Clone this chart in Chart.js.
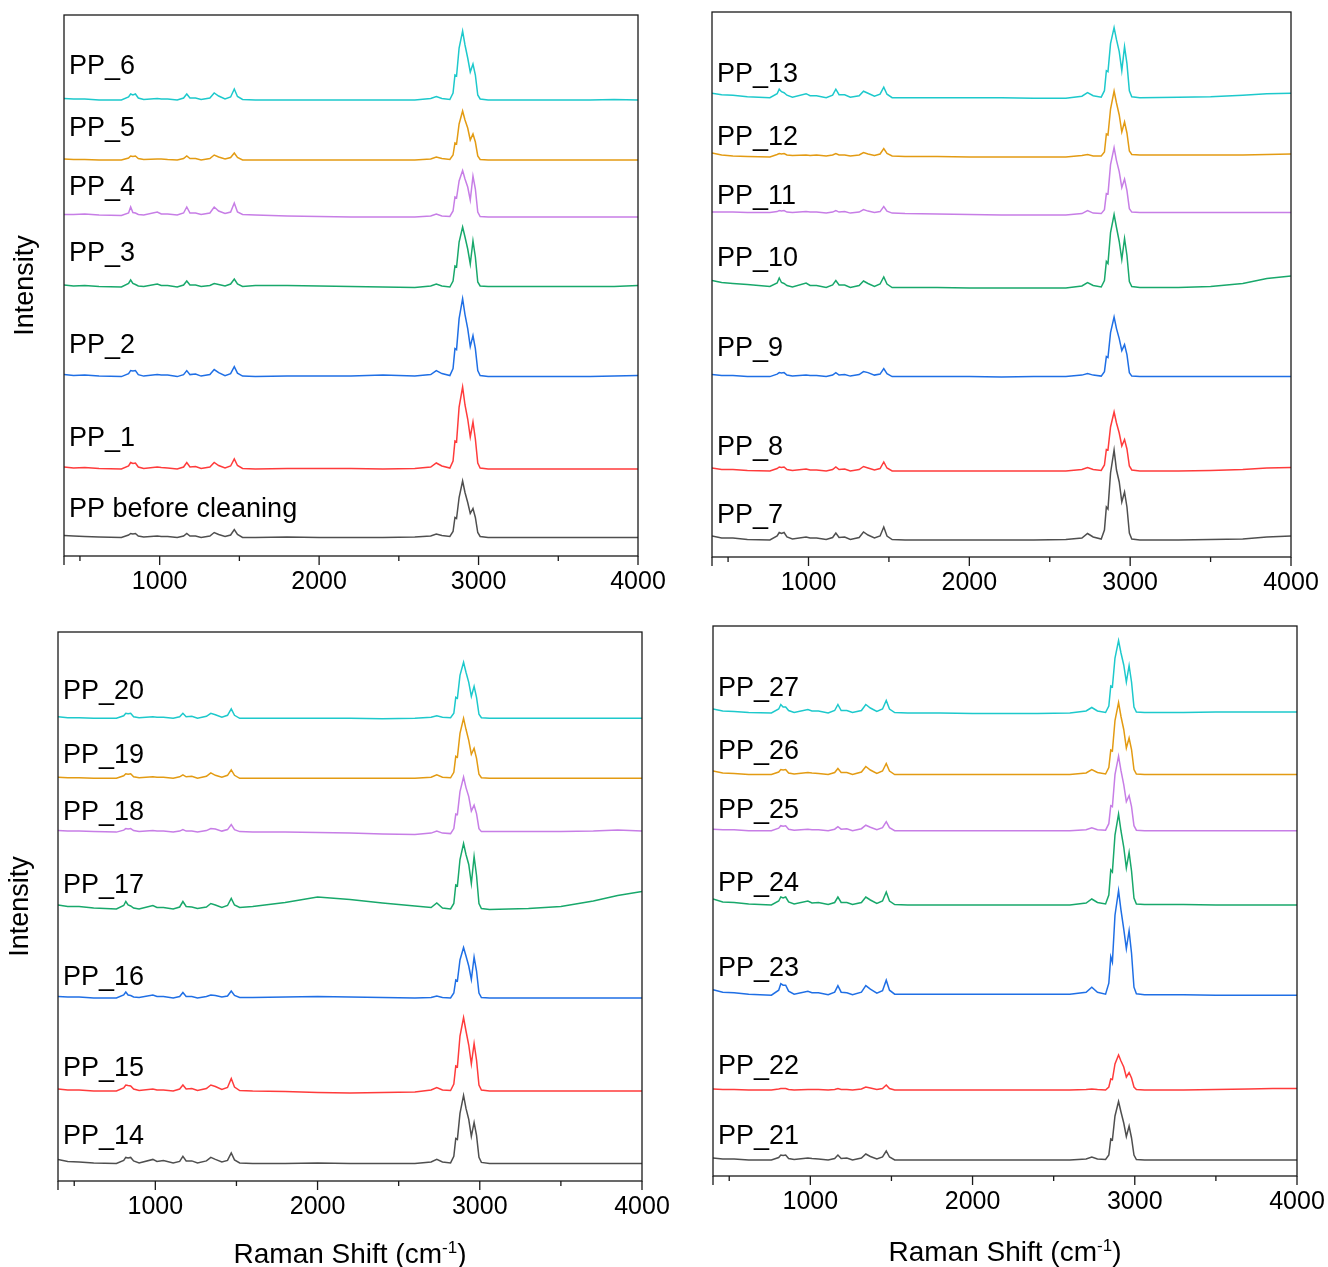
<!DOCTYPE html>
<html>
<head>
<meta charset="utf-8">
<script src="https://cdn.jsdelivr.net/npm/chart.js@4.4.1/dist/chart.umd.min.js"></script>
<style>
  body { margin: 0; background: #fff; width: 1328px; height: 1267px; position: relative; overflow: hidden;
         font-family: "Liberation Sans", Arial, sans-serif; }
  canvas { position: absolute; }
  .xtitle { position: absolute; transform: translateX(-50%); font-size: 28px; line-height: 30px; color: #000; white-space: nowrap; }
  .xtitle sup { font-size: 17px; }
</style>
</head>
<body>
<canvas id="p1" width="690" height="612" style="left:0;top:0"></canvas>
<canvas id="p2" width="664" height="612" style="left:664px;top:0"></canvas>
<canvas id="p3" width="690" height="655" style="left:0;top:612px"></canvas>
<canvas id="p4" width="664" height="655" style="left:664px;top:612px"></canvas>
<div class="xtitle" style="left:350px;top:1233px">Raman Shift (cm<sup>-1</sup>)</div>
<div class="xtitle" style="left:1005px;top:1231px">Raman Shift (cm<sup>-1</sup>)</div>

<script>
// Raman shift grid (cm-1), shared by all spectra
const ramanShift = [
  400, 460, 530, 620, 760,   805, 818, 832, 848, 866,   900, 985, 1010, 1050, 1110,
  1150, 1170, 1190, 1225, 1260,   1315, 1342, 1370, 1410, 1445,   1468, 1488, 1520, 1600, 1800,
  2000, 2200, 2400, 2600, 2700,   2735, 2770, 2820, 2840, 2852,   2862, 2878, 2900, 2915, 2932,
  2948, 2965, 2980, 2995, 3010,   3060, 3300, 3500, 3700, 3850,   4000
];
const tickLabels = [1000, 2000, 3000, 4000];
const minorTicks = [500, 1500, 2500, 3500];

// intensities (a.u., above each trace's own baseline)
const pp0 = [2, 1.5, 1, 0.5, 0,  2.5, 4, 3.5, 4, 1.5,  0.5, 1.5, 1, 1, 0,  1.5, 4, 1.5, 1.5, 0,  1.5, 5, 3, 1, 2.5,  8, 3, 0, 0, 0.5,
  0, 0, 0, 0.5, 1.5,  3.5, 2, 1, 6, 20,  19, 40, 56.5, 45, 35,  24, 29, 20, 5, 1,  0, 0, 0, 0, 0,  0];
const pp1 = [2, 1, 1.5, 0.5, 0,  3, 6.5, 5.5, 6, 2,  0.5, 2, 1.5, 1, 0,  2, 6.5, 2, 2.5, 0.5,  2, 6.5, 3.5, 1, 3,  10, 3.5, 0.5, 0, 0.5,
  0.5, 0.5, 0, 0.5, 2,  6, 3, 1, 8, 28,  27, 62, 82, 64, 50,  32, 47, 30, 6, 1,  0, 0, 0, 0, 0,  0];
const pp2 = [2, 1, 1.5, 0.5, 0,  3, 6, 5.5, 6, 2,  0.5, 2, 1.5, 1.5, 0,  2, 6, 2, 2.5, 0.5,  2, 7, 4, 1, 3,  10, 3.5, 0.5, 0, 0.5,
  0.5, 0.5, 1.5, 0.5, 2,  6, 3, 1, 8, 28,  27, 58, 78, 62, 48,  30, 41, 28, 6, 1,  0, 0, 0, 0, 0.5,  1];
const pp3 = [2, 1, 1.5, 0.5, 0,  3.5, 7, 3.5, 2.5, 1,  0.5, 3, 1.5, 1.5, 0,  2, 6, 2, 2, 0.5,  1.5, 3.5, 2.5, 1, 3,  8, 3, 0.5, 1.5, 1.5,
  1, 0.5, 0, -0.5, 1,  3, 1, 0, 6, 21,  20, 45, 60, 50, 38,  23, 46, 30, 5, 1,  0.5, 0.5, 0.5, 0.5, 0.5,  1.5];
const pp4 = [2.5, 2.5, 3, 2, 1.5,  4, 10, 4.5, 4, 2.5,  2, 5, 3, 3, 2,  4, 10, 4, 4, 2.5,  4, 10, 6, 3.5, 5,  14, 5, 2.5, 2, 1,
  0.5, 0, 0, 0, 1,  3, 1, 0.5, 6, 20,  19, 36, 46.5, 38, 30,  17, 41, 28, 5, 0.5,  0, 0, 0, 0, 0,  0];
const pp5 = [1, 0.5, 0.5, 0, 0,  2, 4, 3.5, 4, 1.5,  0.5, 1, 1, 0.5, 0,  1.5, 4, 1.5, 1.5, 0,  1.5, 5, 3, 1, 2.5,  7, 2.5, 0, 0, 0,
  0, 0, 0, 0, 1,  3, 1.5, 0.5, 5, 17,  16, 36, 49, 40, 32,  20, 26, 18, 4, 0.5,  0, 0, 0, 0, 0,  0];
const pp6 = [1.5, 1, 1, 0, 0,  3, 6, 5, 6, 2,  0.5, 1.5, 1, 1, 0,  2, 6, 2, 2, 0.5,  2, 7, 4, 1, 3,  11, 3.5, 0.5, 0, 0,
  0, 0, 0, 0, 1.5,  3.5, 1.5, 0.5, 7, 25,  24, 52, 69, 55, 42,  28, 36, 25, 5, 1,  0, 0, 0, 0, 0.5,  0];

const pp7 = [4, 2, 2, 0.5, 0,  4, 7.5, 6.5, 7.5, 3,  1, 3, 2, 2, 0.5,  2.5, 7, 2.5, 3, 0.5,  2.5, 8, 5, 2, 4,  13, 4, 0.5, 0, 0,
  0, 0, 0, 0.5, 2,  6.5, 3, 1, 10, 33,  31, 67, 90, 70, 58,  38, 48, 33, 7, 1,  0, 0, 0.5, 1, 3,  4];
const pp8 = [3, 1.5, 1.5, 0.5, 0,  2.5, 4, 3.5, 4, 1.5,  0.5, 2, 1, 1, 0,  1.5, 4, 1.5, 2, 0,  1.5, 4.5, 3, 1, 2.5,  9, 3, 0, 0, 0,
  0, 0, 0, 0, 1.5,  3.5, 1.5, 0.5, 6, 21.5,  21, 44, 59, 48, 38,  25, 31.5, 22, 5, 1,  0, 0, 0.5, 1.5, 3,  3.5];
const pp9 = [2, 1, 1, 0, 0,  2.5, 4, 3.5, 4, 1.5,  0.5, 1.5, 1, 1, 0,  1.5, 4, 1.5, 2, 0.5,  2, 5, 4, 1.5, 2.5,  8, 3, 0, 0, 0,
  0, -0.5, 0, 0, 1.5,  3, 1.5, 0.5, 5, 20,  19, 44, 59.5, 48, 38,  26, 32, 22, 4, 0.5,  0, 0, 0, 0, 0,  0];
const pp10 = [7, 5, 4, 3, 1,  4.5, 9.5, 5, 4, 2,  0.5, 4.5, 2, 2, 0,  2.5, 7, 2.5, 2.5, 0,  2, 6.5, 4, 1, 3.5,  10.5, 3.5, 0, 0, 0,
  -0.5, -0.5, -0.5, -0.5, 1.5,  5, 2, 0.5, 7, 26,  24, 55, 73, 60, 46,  28, 49, 32, 6, 1,  0, 0, 1, 4, 9,  11.5];
const pp11 = [0.5, 0.5, 0.5, 0, 0,  1, 2, 1.5, 2, 0.5,  0, 1, 0.5, 0.5, -0.5,  0.5, 2, 0.5, 1, -0.5,  0.5, 3, 1.5, 0, 1,  6, 1.5, -0.5, -1, -1.5,
  -2, -2.5, -2.5, -2.5, -1,  2, -0.5, -1, 3, 19,  18.5, 48, 65, 52, 41,  25, 33.5, 22, 4, 0.5,  0, 0, 0, 0, 0,  0];
const pp12 = [2, 0, -1, -1.5, -2,  0.5, 1.5, 1, 1.5, 0,  -0.5, 0, -0.5, 0, -1,  0, 1.5, 0, 0, -1,  0, 2.5, 1, -0.5, 1,  6.5, 1.5, -1, -1.5, -1.5,
  -2, -2, -2, -2, -0.5,  0.5, -1, -1, 3, 21,  20, 46, 64, 52, 40,  23, 33, 22, 4, 0.5,  0, 0, 0, 0, 0.5,  1];
const pp13 = [4.5, 3, 2.5, 1, 0,  4, 8.5, 6, 5, 2.5,  0.5, 4, 2, 2, 0,  2.5, 8.5, 3, 3, 0.5,  2, 6.5, 4.5, 1.5, 3.5,  10.5, 3.5, 0, 0, 0,
  0, 0, -0.5, -0.5, 1.5,  5, 2, 0.5, 7, 27,  26, 54, 70, 58, 46,  27, 51, 34, 7, 1,  0, 0.5, 1, 2.5, 4,  4.5];

const pp14 = [4, 2, 1.5, 0.5, 0,  3, 6, 5.5, 6, 2.5,  0.5, 4, 2, 3, 0.5,  2, 7, 2.5, 2.5, 0.5,  2.5, 6, 4, 1.5, 3,  10.5, 3.5, 0.5, 0, 0,
  0.5, 0, 0, 0, 1.5,  4, 1.5, 0.5, 7, 25,  24, 50, 68, 55, 44,  27, 41, 28, 6, 1,  0, 0, 0, 0, 0,  0];
const pp15 = [2, 1, 1, 0, 0,  3, 6, 5.5, 5, 2,  0.5, 2, 1, 1, 0,  2, 6, 2, 2.5, 0.5,  2.5, 6, 4.5, 1.5, 3.5,  12.5, 4, 0.5, 0, -0.5,
  -1.5, -2, -1.5, -1, 1,  3.5, 1, 0.5, 7, 25,  24, 55, 73.5, 60, 46,  27, 47.5, 31, 6, 1,  0, 0, 0, 0, 0,  0];
const pp16 = [1.5, 1, 1, 0, 0,  3, 6, 3, 2.5, 1,  0.5, 3, 1.5, 1.5, 0,  1.5, 5.5, 1.5, 1.5, 0,  1.5, 3, 2.5, 1, 2,  7, 2.5, 0.5, 0.5, 1,
  1.5, 1, 0.5, 0, 0.5,  2, 0.5, 0, 5, 18,  17, 38, 50.5, 42, 32,  18.5, 41, 27, 5, 0.5,  0, 0, 0, 0, 0,  0];
const pp17 = [4.5, 3, 3, 1.5, 0.5,  4, 8, 4.5, 3.5, 1.5,  0.5, 4, 2, 2, 0.5,  2.5, 8, 3, 2.5, 1,  2.5, 6, 4.5, 2, 4,  11, 4.5, 2, 3, 7,
  12.5, 10, 6.5, 3.5, 2,  6.5, 1.5, 0.5, 6, 24.5,  23.5, 50, 66, 55, 45,  26, 53, 34, 6, 1,  0, 1, 3, 8.5, 14,  18];
const pp18 = [1, 0.5, 0.5, 0, -0.5,  1.5, 3, 2.5, 3, 1,  0, 1, 0.5, 0.5, -0.5,  0.5, 2, 0.5, 0.5, -0.5,  1, 3, 2.5, 0.5, 2,  7, 2, 0, -0.5, -0.5,
  -1, -1.5, -2.5, -3, -1.5,  0.5, -1.5, -2, 3, 17.5,  17, 40, 54.5, 44, 35,  20.5, 26.5, 18, 3, 0,  0, 0, 0, 0.5, 1.5,  0.5];
const pp19 = [1, 0.5, 0.5, 0, 0,  2.5, 4.5, 4, 4.5, 1.5,  0.5, 1.5, 1, 1, 0,  1.5, 3.5, 1.5, 2, 0,  2, 5.5, 3, 1, 3,  8.5, 3, 0, 0, 0,
  0, 0, 0, 0, 1,  3.5, 1, 0.5, 6, 22,  21, 45, 60, 49, 38,  24, 30, 20, 4, 0.5,  0, 0, 0, 0, 0,  0];
const pp20 = [1.5, 0.5, 0.5, 0, 0,  2.5, 5, 4.5, 5, 1.5,  0.5, 1.5, 1, 1, 0,  1.5, 5, 1.5, 2, 0,  2, 5, 3.5, 1, 3,  9.5, 3, 0, 0, 0,
  0, 0, -0.5, 0, 1,  2.5, 1, 0.5, 5, 21,  20, 43, 56, 46, 36,  22, 32, 21, 4, 0.5,  0, 0, 0, 0, 0,  0];

const pp21 = [2, 1, 1, 0, 0,  2.5, 5, 4.5, 5, 1.5,  0.5, 2, 1.5, 1, 0,  1.5, 5, 1.5, 2, 0,  2, 6, 3.5, 1, 3,  9, 3, 0, 0, 0,
  0, 0, 0, 0, 1,  3, 1, 0.5, 5, 21,  20, 44, 58.5, 48, 37,  23.5, 34, 22, 5, 0.5,  0, 0, 0, 0, 0,  0];
const pp22 = [1, 0.5, 0.5, 0, 0,  1, 1.5, 1.5, 1.5, 0.5,  0, 0.5, 0.5, 0.5, 0,  0.5, 1.5, 0.5, 0.5, 0,  1, 3, 2, 0.5, 1.5,  5, 1.5, 0, 0, 0,
  0, 0, 0, 0, 0.5,  1, 0.5, 0, 3, 11,  10.5, 26, 35, 29, 23,  13, 17.5, 12, 3, 0.5,  0, 0, 0.5, 1, 1.5,  1.5];
const pp23 = [5.5, 3, 2.5, 1, 0,  5, 11.5, 10, 10, 4,  1, 4, 2.5, 2.5, 0.5,  3, 9.5, 3, 2.5, 0.5,  3, 9.5, 6, 2, 4.5,  15, 5, 1, 1, 1,
  1, 1, 1, 1, 3,  8, 3, 1, 12, 38.5,  33, 80, 104.5, 85, 66,  46.5, 64.5, 42, 8, 1.5,  0.5, 0.5, 0, 0, 0,  0];
const pp24 = [6, 3, 2.5, 1, 0,  4, 8, 7, 8, 3,  1, 4, 2, 2.5, 0.5,  2.5, 8, 2.5, 2.5, 0.5,  2.5, 8, 5, 1.5, 4,  13, 4, 0.5, 0, 0,
  0, 0, 0, 0, 2,  6, 2.5, 1, 10, 35,  33, 70, 91, 74, 58,  37, 52.5, 34, 7, 1,  0.5, 0.5, 0, 0, 0,  0];
const pp25 = [1.5, 1, 1, 0, 0,  2.5, 5, 4.5, 5, 1.5,  0.5, 1.5, 1, 1, 0,  1.5, 4, 1.5, 2, 0,  2, 5.5, 3.5, 1, 3,  9, 3, 0, 0, 0,
  0, 0, 0, 0, 1,  3, 1, 0.5, 7, 25,  24, 56, 74.5, 60, 46,  29, 35, 24, 5, 0.5,  0, 0, 0, 0, 0,  0];
const pp26 = [3.5, 1.5, 1, 0, 0,  2.5, 5, 4.5, 5, 1.5,  0.5, 2, 1.5, 1, 0,  2, 6, 2, 2, 0,  2.5, 8, 4.5, 1, 3.5,  11, 3.5, 0, 0, 0,
  0, 0, 0, 0, 1.5,  5, 2, 0.5, 7, 24.5,  23.5, 54, 72, 58, 45,  26.5, 36.5, 25, 5, 0.5,  0, 0, 0, 0, 0,  0];
const pp27 = [4, 2, 1.5, 0.5, 0,  4, 8.5, 6, 6, 2.5,  0.5, 3.5, 2, 2, 0,  2.5, 8.5, 2.5, 2.5, 0.5,  2.5, 8.5, 5, 1.5, 4,  12.5, 4, 0.5, 0, 0,
  -0.5, -0.5, -0.5, 0, 2,  5.5, 2, 0.5, 7, 27,  26, 55, 72.5, 60, 48,  31, 47.5, 31, 6, 1,  0.5, 0.5, 1, 1, 1,  1];

// names, vertical offsets (stacking) and label heights, bottom trace first
const names1 = ["PP before cleaning", "PP_1", "PP_2", "PP_3", "PP_4", "PP_5", "PP_6"];
const names2 = ["PP_7", "PP_8", "PP_9", "PP_10", "PP_11", "PP_12", "PP_13"];
const names3 = ["PP_14", "PP_15", "PP_16", "PP_17", "PP_18", "PP_19", "PP_20"];
const names4 = ["PP_21", "PP_22", "PP_23", "PP_24", "PP_25", "PP_26", "PP_27"];
const offsets1 = [18.5, 87, 179.4, 269, 339, 396, 456];
const offsets2 = [17, 86, 180.4, 269.5, 344.4, 402, 459.3];
const offsets3 = [17.6, 90, 183, 271.5, 349.4, 402.7, 462.7];
const offsets4 = [16, 86, 180.8, 271, 345.3, 401.5, 463];
const labelY1 = [39, 110, 203, 295.5, 361, 420, 482];
const labelY2 = [34, 102, 201.4, 291.5, 353, 412, 474.6];
const labelY3 = [37, 105.2, 196.5, 288.3, 360.6, 418.4, 482.5];
const labelY4 = [32, 102.3, 200, 285.3, 357.7, 416.7, 480.4];

const lineColors = ["#4f4f4f", "#ff3b3b", "#1f6fe5", "#18a86b", "#c77ee6", "#e39b13", "#1dc9cc"];
const FONT = '"Liberation Sans", Arial, sans-serif';

// frame box, outward x ticks and the trace names
const framePlugin = {
  id: "frame",
  afterDraw(chart, args, opts) {
    const { ctx, chartArea: a, scales: { x, y } } = chart;
    ctx.save();
    ctx.strokeStyle = "#1a1a1a";
    ctx.lineWidth = 1.3;
    ctx.strokeRect(a.left, a.top, a.right - a.left, a.bottom - a.top);
    ctx.beginPath();
    [x.min].concat(tickLabels).forEach(v => {
      const px = x.getPixelForValue(v);
      ctx.moveTo(px, a.bottom); ctx.lineTo(px, a.bottom + 9);
    });
    minorTicks.forEach(v => {
      const px = x.getPixelForValue(v);
      ctx.moveTo(px, a.bottom); ctx.lineTo(px, a.bottom + 5);
    });
    ctx.stroke();

    ctx.font = "27px " + FONT;
    ctx.fillStyle = "#000";
    ctx.textBaseline = "alphabetic";
    chart.data.datasets.forEach((ds, i) => {
      ctx.fillText(ds.label, a.left + 5, y.getPixelForValue(opts.labelY[i]));
    });
    ctx.restore();
  }
};

function buildPanel(id, p) {
  return new Chart(document.getElementById(id).getContext("2d"), {
    type: "line",
    data: {
      datasets: p.series.map((vals, i) => ({
        label: p.names[i],
        data: ramanShift.map((x, j) => ({ x: x, y: p.offsets[i] + vals[j] })),
        borderColor: lineColors[i],
        borderWidth: 1.5,
        pointRadius: 0,
        tension: 0,
        fill: false
      }))
    },
    options: {
      responsive: false,
      animation: false,
      devicePixelRatio: 1,
      layout: { padding: p.padding },
      plugins: { legend: { display: false }, tooltip: { enabled: false }, frame: { labelY: p.labelY } },
      scales: {
        x: {
          type: "linear", min: 400, max: 4000,
          grid: { display: false }, border: { display: false },
          afterBuildTicks: s => { s.ticks = tickLabels.map(v => ({ value: v })); },
          afterFit: s => { s.height = p.xHeight; s.paddingLeft = 0; s.paddingRight = 0; },
          ticks: { color: "#000", font: { size: 25, family: FONT }, padding: 3, maxRotation: 0, autoSkip: false,
                   callback: v => String(v) }
        },
        y: {
          min: 0, max: p.yMax,
          grid: { display: false }, border: { display: false },
          ticks: { display: false },
          title: { display: p.yTitle, text: "Intensity", color: "#000", font: { size: 27, family: FONT },
                   padding: { top: p.yTitlePad, bottom: 0 } },
          afterFit: s => { s.width = p.yWidth; }
        }
      }
    },
    plugins: [framePlugin]
  });
}

buildPanel("p1", { names: names1, series: [pp0, pp1, pp2, pp3, pp4, pp5, pp6], offsets: offsets1, labelY: labelY1,
  yMax: 541, padding: { left: 0, top: 15, right: 52, bottom: 0 }, yWidth: 64, xHeight: 56, yTitle: true, yTitlePad: 9 });
buildPanel("p2", { names: names2, series: [pp7, pp8, pp9, pp10, pp11, pp12, pp13], offsets: offsets2, labelY: labelY2,
  yMax: 545, padding: { left: 0, top: 12, right: 37, bottom: 0 }, yWidth: 48, xHeight: 55, yTitle: false, yTitlePad: 0 });
buildPanel("p3", { names: names3, series: [pp14, pp15, pp16, pp17, pp18, pp19, pp20], offsets: offsets3, labelY: labelY3,
  yMax: 549, padding: { left: 0, top: 20, right: 48, bottom: 0 }, yWidth: 58, xHeight: 86, yTitle: true, yTitlePad: 4 });
buildPanel("p4", { names: names4, series: [pp21, pp22, pp23, pp24, pp25, pp26, pp27], offsets: offsets4, labelY: labelY4,
  yMax: 550, padding: { left: 0, top: 14, right: 31, bottom: 0 }, yWidth: 49, xHeight: 91, yTitle: false, yTitlePad: 0 });
</script>
</body>
</html>
